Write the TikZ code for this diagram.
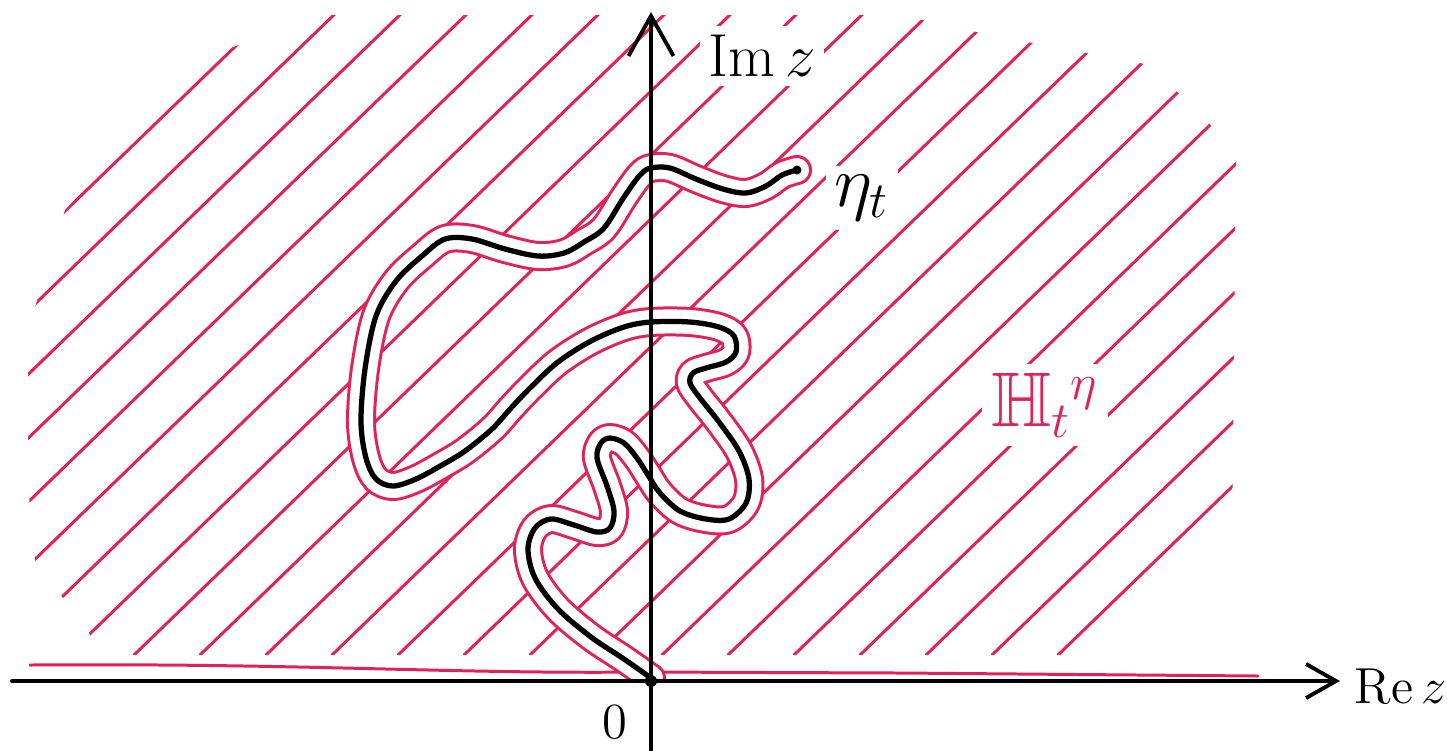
\documentclass[tikz,border=0pt]{standalone}
\usepackage{amsmath,amssymb}
\usepackage{xcolor}
\definecolor{penred}{RGB}{226,34,86}
\usepackage{tikz}
\usetikzlibrary{arrows.meta}

\begin{document}
\begin{tikzpicture}[
  x=0.01cm, y=-0.01cm,
  line cap=round, line join=round,
  hatch/.style={penred, line width=0.85pt},
  axis/.style={black, line width=1.1pt},
  curve/.style={black, line width=1.5pt,
    preaction={draw=penred, line width=3mm},
    preaction={draw=white, line width=2.4mm}},
  lab/.style={inner sep=0pt},
  gaplab/.style={fill=white, inner sep=2.5pt},
]
\useasboundingbox (0,0) rectangle (1447,750);

\coordinate (O) at (651,681);
\coordinate (tip) at (797,170);
\coordinate (xl) at (12,681);
\coordinate (xr) at (1340,681);
\coordinate (yb) at (651,750);
\coordinate (yt) at (651,12);

% hatching of the slit half plane
\begin{scope}
  \clip (28,330) -- (28,485) -- (35,560) -- (105,655) -- (1105,655) -- (1232,545)
        -- (1236,150) -- (1150,65) -- (990,35) -- (900,15) -- (325,15) -- (210,55)
        -- (65,210) -- cycle;
  \foreach \c in {-790,-724,...,1260}
    \draw[hatch] (\c,655) -- ++(760,-735);
\end{scope}

% red boundary on the real line
\draw[hatch] (30,665) .. controls (300,663) and (450,674) .. (640,672)
  -- (900,673) -- (1258,676);

% the curve with its two sides
\begin{scope}
  \clip (0,0) rectangle (1447,681);
  \draw[curve] plot[smooth, tension=0.55] coordinates {
    (651,678) (624,659) (591,637) (558,609) (535,578) (528,549) (535,528)
    (551,519) (574,525) (597,532) (610,528) (614,511) (607,486) (597,458)
    (601,443) (610,438) (624,443) (637,458) (648,475) (660,493) (680,511)
    (706,519) (729,519) (746,503) (749,479) (739,451) (719,422) (700,398)
    (690,383) (693,373) (706,368) (726,362) (736,352) (734,336) (719,327)
    (690,322) (651,322) (624,327) (591,341) (558,362) (531,387) (511,408)
    (492,429) (465,451) (442,465) (416,479) (393,486) (376,479) (366,458)
    (361,422) (365,369) (376,316) (396,281) (422,256) (445,239) (472,239)
    (505,249) (538,256) (564,253) (584,242) (604,228) (624,197) (640,175)
    (651,168) (670,168) (696,179) (723,189) (746,193) (766,186) (782,175)
    (797,170)};
\end{scope}

% axes
\draw[axis, -{Straight Barb[length=3mm,width=3.4mm]}] (xl) -- (xr);
\draw[axis, -{Straight Barb[length=4mm,width=4.5mm]}] (yb) -- (yt);

\fill (O) circle (0.6mm);
\fill (tip) circle (0.45mm);

% labels
\node[gaplab, font=\fontsize{16}{18}\selectfont] (imz) at (762,56) {$\mathrm{Im}\,z$};
\node[lab, font=\fontsize{15}{18}\selectfont, anchor=west] (rez) at (1354,686) {$\mathrm{Re}\,z$};
\node[gaplab, font=\fontsize{22}{24}\selectfont] (eta) at (862,198) {$\eta_t$};
\node[gaplab, text=penred, font=\fontsize{22}{24}\selectfont] (hlab) at (1045,405) {$\mathbb{H}_t{}^{\eta}$};
\node[lab, font=\fontsize{14}{16}\selectfont] (zero) at (615,722) {$0$};
\end{tikzpicture}
\end{document}
